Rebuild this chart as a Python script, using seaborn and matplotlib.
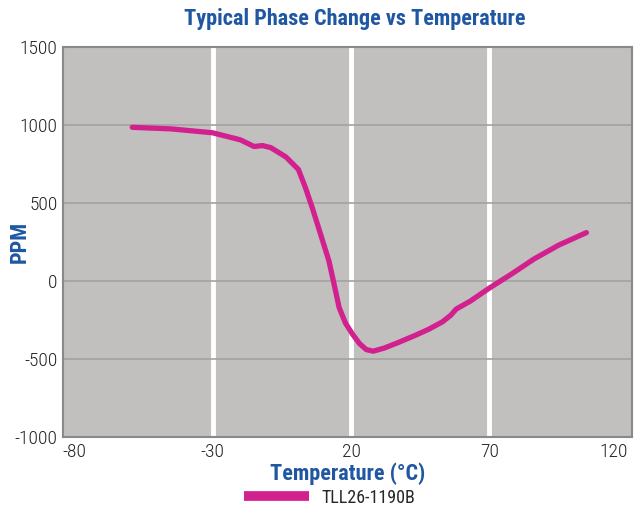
import matplotlib
matplotlib.use("Agg")
from matplotlib import pyplot as plt
import pandas as pd
import seaborn as sns

# curve
temperature = [-59, -45, -30, -20, -15, -12, -9, -3.5, 1, 3.5, 6, 9, 12, 14, 15.7, 18, 20.5, 23, 25.5, 28,
               32, 37, 43, 48, 53, 56, 58, 63, 70, 78, 86, 95, 105]
ppm = [985, 975, 950, 905, 862, 868, 855, 795, 715, 600, 470, 300, 130, -30, -170, -270, -340, -400, -440, -450,
       -430, -395, -350, -310, -262, -220, -180, -130, -45, 45, 140, 230, 310]
series_name = "TLL26-1190B"
x_ticks = [-80, -30, 20, 70, 120]
y_ticks = [-1000, -500, 0, 500, 1000, 1500]

df = pd.DataFrame({"Temperature": temperature, "PPM": ppm, "Series": series_name})

sns.set_style("white")
narrow = ["Roboto Condensed", "Archivo Narrow", "DejaVu Sans"]
plt.rcParams["font.family"] = narrow

blue = "#1f57a3"
magenta = "#d2208e"

fig = plt.figure(figsize=(6.34, 5.09), dpi=100)
ax = fig.add_axes([0.0994, 0.1415, 0.8976, 0.7662])
ax.set_facecolor("#c1c0be")

for t in [-30, 20, 70]:
    ax.axvline(t, color="white", lw=3.5, zorder=1)
for v in [-500, 0, 500, 1000]:
    ax.axhline(v, color="#a3a2a0", lw=1.2, zorder=1)

sns.lineplot(data=df, x="Temperature", y="PPM", hue="Series", palette=[magenta],
             lw=3.8, ax=ax, legend=False, zorder=3, sort=False)

ax.set_xlim(-84, 121.5)
ax.set_ylim(-1000, 1500)
ax.set_xticks(x_ticks)
ax.set_yticks(y_ticks)
ax.set_xticklabels([("-" if t < 0 else "") + str(abs(t)) for t in x_ticks], fontsize=14,
                   color="#222222", fontweight="light")
ax.set_yticklabels([str(v) for v in y_ticks], fontsize=14, color="#222222", fontweight="light")
ax.get_xticklabels()[-1].set_ha("right")
ax.tick_params(length=0, pad=4)
for s in ax.spines.values():
    s.set_color("#8a8988")
    s.set_linewidth(1.5)

ax.set_xlabel("Temperature (°C)", fontsize=16, fontweight="bold", color=blue, labelpad=1)
ax.set_ylabel("PPM", fontsize=16, fontweight="bold", color=blue)
ax.yaxis.set_label_coords(-0.056, 0.5)
fig.suptitle("Typical Phase Change vs Temperature", x=0.56, y=0.985, fontsize=16,
             fontweight="bold", color=blue)

handle = plt.Line2D([], [], color=magenta, lw=7, solid_capstyle="butt")
fig.legend([handle], [series_name], loc="center", bbox_to_anchor=(0.52, 0.022), frameon=False,
           fontsize=13, handlelength=3.6, handletextpad=0.7)

fig.savefig("out.png", dpi=100)
